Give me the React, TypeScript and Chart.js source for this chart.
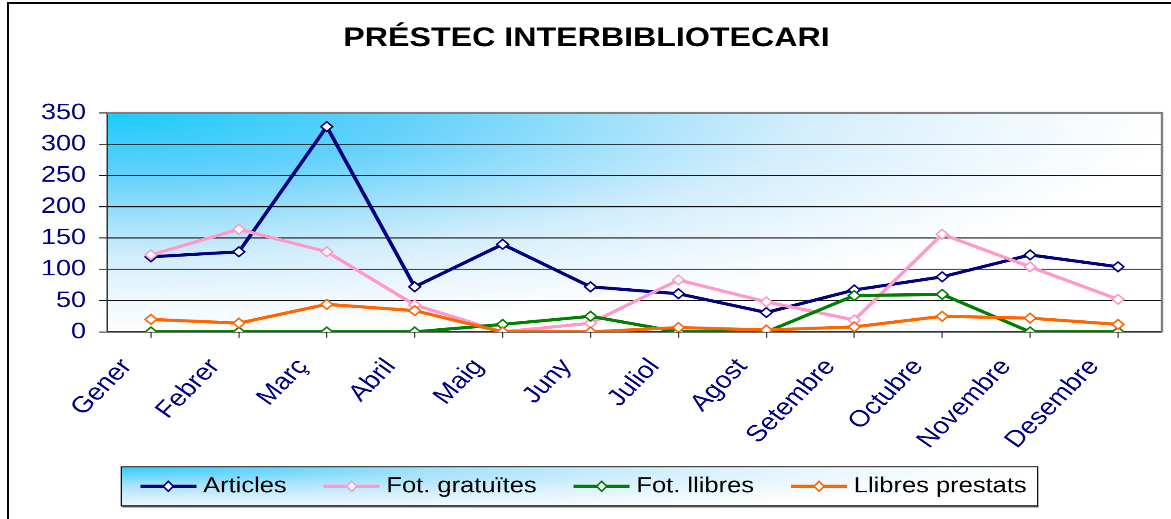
import React, { useEffect, useRef } from 'react';
import { Chart, registerables } from 'chart.js';

Chart.register(...registerables);

const months = ['Gener', 'Febrer', 'Març', 'Abril', 'Maig', 'Juny', 'Juliol', 'Agost', 'Setembre', 'Octubre', 'Novembre', 'Desembre'];
const articles = [120, 128, 328, 72, 140, 72, 61, 31, 67, 88, 123, 104];
const fotGratuites = [123, 164, 128, 43, 0, 14, 83, 48, 19, 156, 104, 52];
const fotLlibres = [0, 0, 0, 0, 12, 25, 0, 0, 58, 60, 0, 0];
const llibresPrestats = [20, 14, 44, 34, 0, 0, 7, 3, 8, 25, 22, 12];
const seriesNames = ['Articles', 'Fot. gratuïtes', 'Fot. llibres', 'Llibres prestats'];
const seriesColors = ['#000080', '#ff99cc', '#008000', '#ff6600'];
const yMin = 0;
const yMax = 350;
const yStep = 50;
const titleText = 'PRÉSTEC INTERBIBLIOTECARI';

const W = 1171;
const H = 519;
const K = 1.2; // vertical stretch of the drawing, squeezed back by CSS
const IH = Math.round(H * K);
const FONT = "'Liberation Sans', Arial, sans-serif";

function makeSymbol(color: string): Promise<HTMLImageElement> {
  const s = 3;
  const w = 56;
  const h = 16;
  const c = document.createElement('canvas');
  c.width = w * s;
  c.height = h * s;
  const ctx = c.getContext('2d')!;
  ctx.scale(s, s);
  ctx.strokeStyle = color;
  ctx.lineWidth = 3.8;
  ctx.beginPath();
  ctx.moveTo(0, h / 2);
  ctx.lineTo(w, h / 2);
  ctx.stroke();
  ctx.beginPath();
  ctx.moveTo(w / 2, h / 2 - 6);
  ctx.lineTo(w / 2 + 5, h / 2);
  ctx.lineTo(w / 2, h / 2 + 6);
  ctx.lineTo(w / 2 - 5, h / 2);
  ctx.closePath();
  ctx.fillStyle = '#ffffff';
  ctx.fill();
  ctx.lineWidth = 1.8;
  ctx.stroke();
  const img = new Image();
  img.width = w;
  img.height = h;
  return new Promise((resolve) => {
    img.onload = () => resolve(img);
    img.onerror = () => resolve(img);
    img.src = c.toDataURL();
  });
}

const bgPlugin = {
  id: 'bgPlugin',
  afterLayout(chart: any) {
    // let the rotated month labels run below the axis box without being clipped
    const x = chart.scales.x;
    if (x) x.bottom = x.bottom + 40;
  },
  beforeDraw(chart: any) {
    const { ctx, chartArea: a } = chart;
    // plot area gradient
    ctx.save();
    const rx = a.right - a.left;
    const ry = a.bottom - a.top;
    ctx.translate(a.left, a.top);
    ctx.scale(1, ry / rx);
    const g = ctx.createRadialGradient(0, 0, 0, 0, 0, rx);
    g.addColorStop(0, '#1ccbfb');
    g.addColorStop(0.28, '#62d1fb');
    g.addColorStop(0.5, '#a5e2fb');
    g.addColorStop(0.66, '#d3eefc');
    g.addColorStop(0.85, '#eef8fe');
    g.addColorStop(1, '#ffffff');
    ctx.fillStyle = g;
    ctx.fillRect(0, 0, rx, rx);
    ctx.restore();

    // legend box
    const lg = chart.legend;
    const hb = lg && lg.legendHitBoxes;
    if (hb && hb.length) {
      const first = hb[0];
      const last = hb[hb.length - 1];
      const cy = first.top + first.height / 2;
      const x0 = first.left - 25;
      const x1 = last.left + last.width + 11;
      const y0 = cy - 23.4;
      const y1 = cy + 23.5;
      ctx.save();
      ctx.fillStyle = '#808080';
      ctx.fillRect(x0 + 1, y1 - 1, x1 - x0, 3);
      ctx.translate(x0, y0);
      const bw = x1 - x0;
      const bh = (y1 - y0) * 1.3;
      ctx.save();
      ctx.scale(1, bh / bw);
      const lgG = ctx.createRadialGradient(0, 0, 0, 0, 0, bw);
      lgG.addColorStop(0, '#33ccf9');
      lgG.addColorStop(0.35, '#a5e2fb');
      lgG.addColorStop(0.63, '#d9f1fd');
      lgG.addColorStop(0.85, '#f2fafe');
      lgG.addColorStop(1, '#ffffff');
      ctx.fillStyle = lgG;
      ctx.fillRect(0, 0, bw, (y1 - y0) * bw / bh);
      ctx.restore();
      ctx.strokeStyle = '#000000';
      ctx.lineWidth = 1.2;
      ctx.strokeRect(0, 0, bw, y1 - y0);
      ctx.restore();
    }
  },
  beforeDatasetsDraw(chart: any) {
    const { ctx, chartArea: a } = chart;
    ctx.save();
    ctx.strokeStyle = '#808080';
    ctx.lineWidth = 2.4;
    ctx.beginPath();
    ctx.moveTo(a.left, a.top);
    ctx.lineTo(a.right, a.top);
    ctx.lineTo(a.right, a.bottom);
    ctx.stroke();
    ctx.restore();
  },
};

export default function App() {
  const canvasRef = useRef<HTMLCanvasElement | null>(null);

  useEffect(() => {
    document.body.style.margin = '0';
    let chart: Chart | null = null;
    let cancelled = false;
    const values = [articles, fotGratuites, fotLlibres, llibresPrestats];
    Promise.all(seriesColors.map(makeSymbol)).then((imgs) => {
      if (cancelled || !canvasRef.current) return;
      chart = new Chart(canvasRef.current, {
        type: 'line',
        data: {
          labels: months,
          datasets: seriesNames.map((name, i) => ({
            label: name,
            data: values[i],
            borderColor: seriesColors[i],
            backgroundColor: seriesColors[i],
            borderWidth: 3.8,
            pointStyle: 'rectRot',
            pointRadius: 5.8,
            pointHoverRadius: 5.8,
            pointBorderWidth: 1.8,
            pointBackgroundColor: '#ffffff',
            pointBorderColor: seriesColors[i],
            tension: 0,
            order: seriesNames.length - 1 - i,
          })),
        },
        options: {
          animation: false,
          responsive: true,
          maintainAspectRatio: false,
          devicePixelRatio: 2,
          layout: { padding: { left: 11, right: 9, top: 0, bottom: 16.5 } },
          plugins: {
            tooltip: { enabled: false },
            title: {
              display: true,
              text: titleText,
              color: '#000000',
              font: { family: FONT, size: 32.2, weight: 'bold', lineHeight: 1.2 },
              padding: { top: 27.2, bottom: 69.6 },
            },
            legend: {
              display: true,
              position: 'bottom',
              labels: {
                usePointStyle: true,
                pointStyleWidth: 44,
                padding: 43,
                color: '#000000',
                font: { family: FONT, size: 25.5 },
                sort: (a: any, b: any) => a.datasetIndex - b.datasetIndex,
                generateLabels: (c: any) => {
                  const items = (Chart.defaults.plugins.legend.labels as any).generateLabels(c);
                  return items.map((it: any) => ({ ...it, pointStyle: imgs[it.datasetIndex] }));
                },
              },
            },
          },
          scales: {
            x: {
              type: 'category',
              offset: true,
              afterFit: (s: any) => {
                s.height = 129.6;
              },
              grid: {
                display: true,
                drawOnChartArea: false,
                drawTicks: true,
                tickLength: 7,
                color: '#333333',
                lineWidth: 1.2,
              },
              border: { display: true, color: '#333333', width: 1.5 },
              ticks: {
                autoSkip: false,
                minRotation: 50,
                maxRotation: 50,
                labelOffset: -24,
                padding: 19,
                color: '#000080',
                font: { family: FONT, size: 28 },
              },
            },
            y: {
              type: 'linear',
              min: yMin,
              max: yMax,
              afterFit: (s: any) => {
                s.width = 96;
              },
              grid: {
                display: true,
                drawOnChartArea: true,
                drawTicks: true,
                tickLength: 8,
                color: '#111111',
                lineWidth: 1.2,
              },
              border: { display: true, color: '#333333', width: 1.5 },
              ticks: {
                stepSize: yStep,
                padding: 13,
                color: '#000080',
                font: { family: FONT, size: 27 },
              },
            },
          },
        },
        plugins: [bgPlugin],
      });
    });
    return () => {
      cancelled = true;
      if (chart) chart.destroy();
    };
  }, []);

  return (
    <div style={{ position: 'relative', width: W, height: H, overflow: 'hidden', background: '#ffffff' }}>
      <div
        style={{
          position: 'absolute',
          left: 0,
          top: 0,
          width: W,
          height: IH,
          transform: `scaleY(${H / IH})`,
          transformOrigin: '0 0',
        }}
      >
        <canvas ref={canvasRef} />
      </div>
      <div
        style={{
          position: 'absolute',
          left: 7,
          top: 2,
          width: W + 20,
          height: H + 20,
          borderLeft: '2px solid #000000',
          borderTop: '2px solid #000000',
          pointerEvents: 'none',
        }}
      />
    </div>
  );
}
